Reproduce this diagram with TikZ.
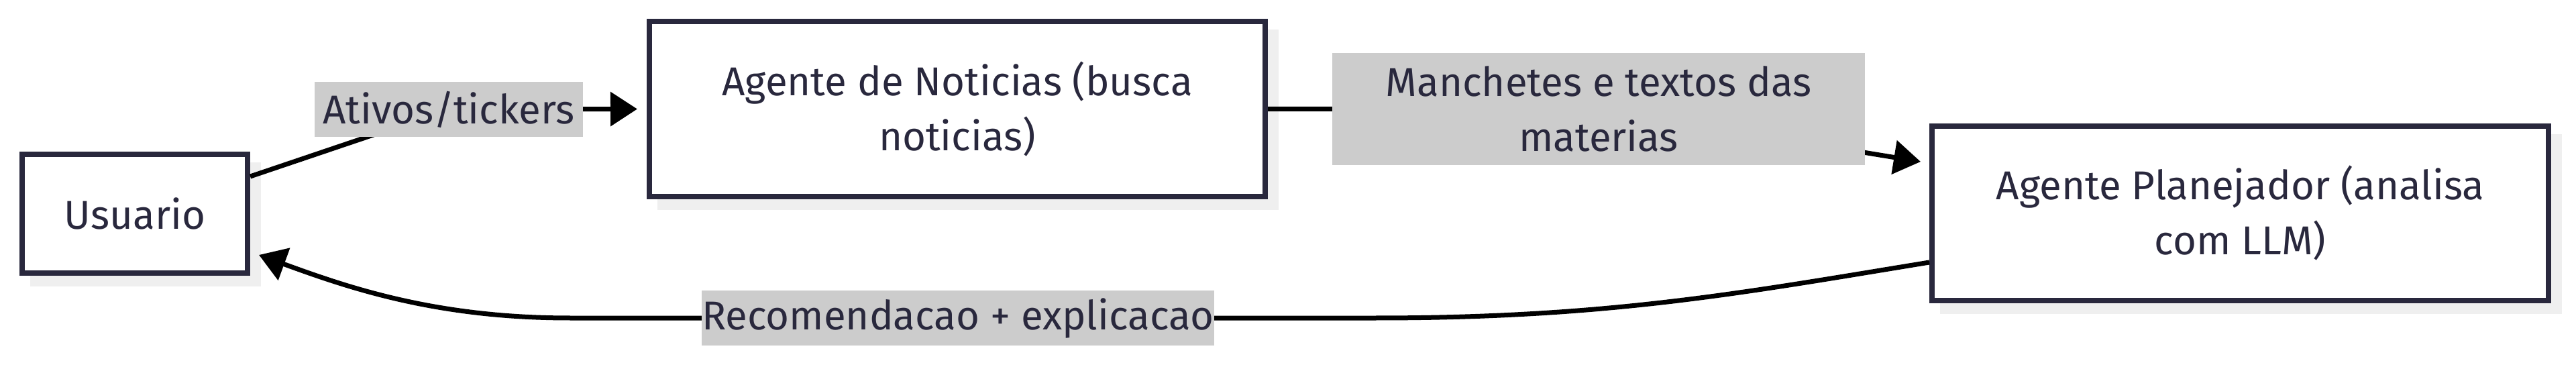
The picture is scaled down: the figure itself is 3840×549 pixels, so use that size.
\documentclass[tikz,border=0pt]{standalone}
\usepackage{fontspec}
\setmainfont{Fira Sans}
\usetikzlibrary{arrows.meta,backgrounds}
\definecolor{navy}{HTML}{29283D}
\definecolor{lblgray}{HTML}{CCCCCC}
\definecolor{shadowc}{HTML}{EFEFEF}
\tikzset{
  box/.style={draw=navy, line width=8pt, fill=white, inner sep=0pt, outer sep=0pt,
    align=center, text=navy, font=\fontsize{60}{82}\selectfont},
  lbl/.style={fill=lblgray, inner sep=0pt, outer sep=0pt, align=center, text=navy,
    font=\fontsize{60}{82}\selectfont},
  edge/.style={draw=black, line width=7pt, -{Triangle[length=40pt,width=50pt]}},
  shadowbox/.style={fill=shadowc},
}
\newcommand{\boxshadow}[1]{\fill[shadowbox] ([shift={(12,-20)}]#1.south west) rectangle ([shift={(20,-12)}]#1.north east);}
\begin{document}
\begin{tikzpicture}[x=1pt,y=1pt]
\useasboundingbox (0,0) rectangle (3840,549);
% boxes
\node[box, minimum width=336pt, minimum height=177pt] (us) at (201,230.5) {Usuario};
\node[box, minimum width=918pt, minimum height=261pt] (no) at (1427,386.5) {Agente de Noticias (busca\\noticias)};
\node[box, minimum width=919pt, minimum height=260pt] (pl) at (3339.5,231) {Agente Planejador (analisa\\com LLM)};
% shadows behind boxes
\begin{pgfonlayer}{background}
\fill[white] (0,0) rectangle (3840,549);
\boxshadow{us}
\boxshadow{no}
\boxshadow{pl}
\end{pgfonlayer}
% label positions
\coordinate (l1c) at (669,386);
\coordinate (l2c) at (2383,386.5);
\coordinate (l3c) at (1428,75);
\coordinate (b3a) at (2050,75);
\coordinate (b3b) at (850,75);
% edges
\draw[edge] ([shift={(4,55.5)}]us.east) -- (l1c) -- ([xshift=-18]no.west);
\draw[edge] ([xshift=4]no.east) -- (l2c) -- ([shift={(-17,77)}]pl.west);
\draw[edge] ([shift={(-4,-73)}]pl.west) .. controls (2600,113) and (2400,75) .. (b3a) -- (b3b) .. controls (650,75) and (520,120) .. ([shift={(17,-61.5)}]us.east);
% labels
\node[lbl, minimum width=400pt, minimum height=82.5pt] (l1) at (l1c) {Ativos/tickers};
\node[lbl, minimum width=794pt, minimum height=166.5pt] (l2) at (l2c) {Manchetes e textos das\\materias};
\node[lbl, minimum width=762pt, minimum height=82pt] (l3) at (l3c) {Recomendacao + explicacao};
\end{tikzpicture}
\end{document}
